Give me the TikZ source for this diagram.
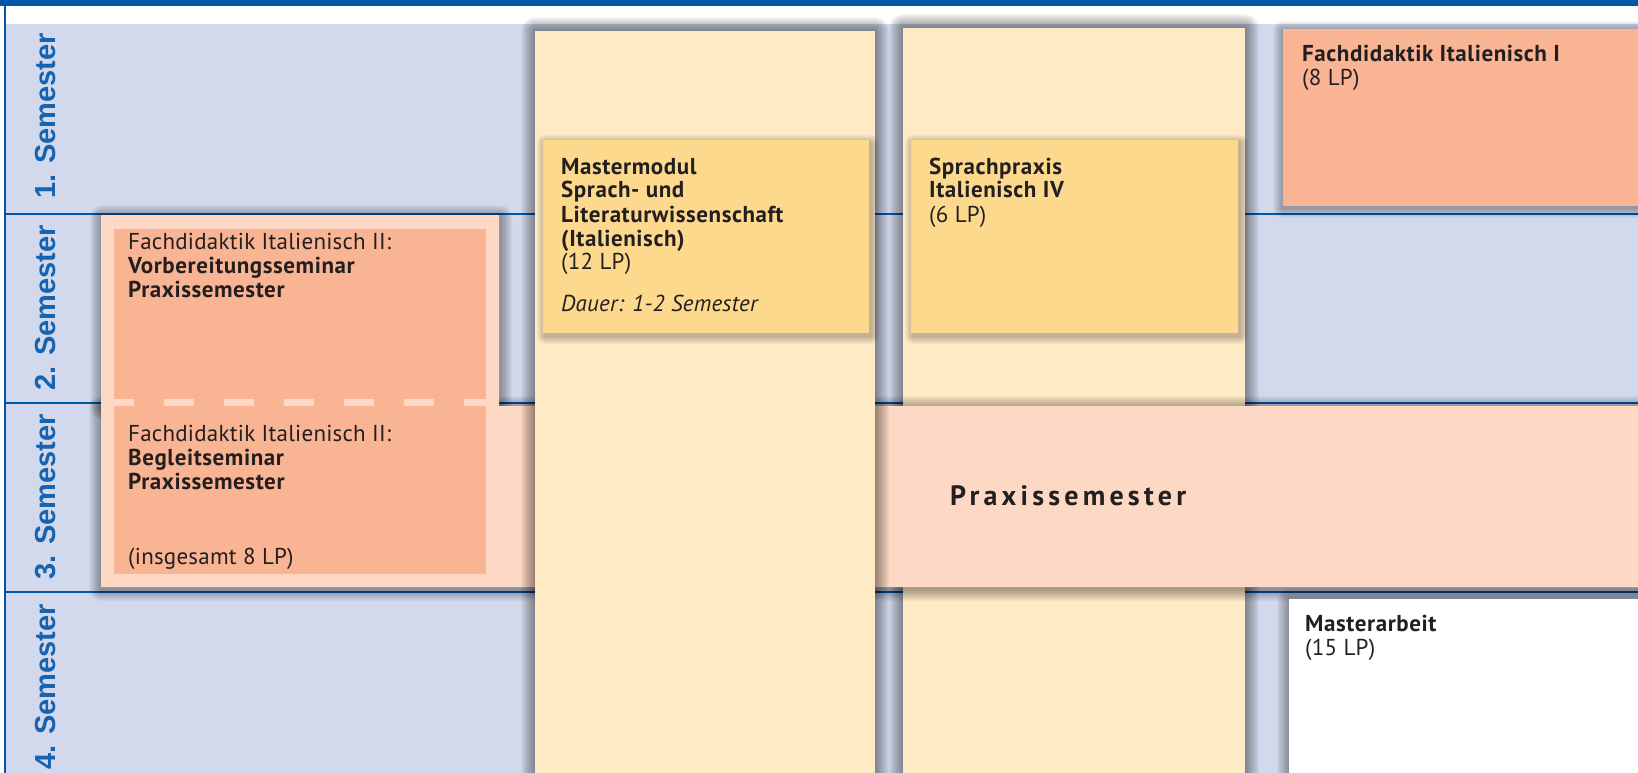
\documentclass[tikz,border=0pt]{standalone}
\usepackage{fontspec}
\setmainfont{PT Sans}[LetterSpace=1,BoldFeatures={LetterSpace=2.5}]
\newfontfamily\labfont{Liberation Sans}
\newfontfamily\bandfont{PT Sans Bold}[LetterSpace=15]
\definecolor{topblue}{HTML}{0057A8}
\definecolor{bgblue}{HTML}{D3D9EC}
\definecolor{colyellow}{HTML}{FFEAC6}
\definecolor{boxyellow}{HTML}{FDD98E}
\definecolor{salmon}{HTML}{F8B493}
\definecolor{lightpink}{HTML}{FDD8C4}
\definecolor{labblue}{HTML}{1763B0}
\definecolor{txt}{HTML}{231F20}
% soft shadow: x1 y1 x2 y2 spread dx dy
\newcommand\softshade[7]{%
  \foreach \k in {1,...,#5}{%
    \fill[black,opacity=0.03,rounded corners=\k pt]
      ({#1-\k+#6},{#2-\k+#7}) rectangle ({#3+\k+#6},{#4+\k+#7});}}
\begin{document}
\begin{tikzpicture}[x=1pt,y=-1pt,
  txtnode/.style={anchor=base west,inner sep=0pt,text=txt,font=\fontsize{23}{24}\selectfont},
  semlabel/.style={rotate=90,anchor=base,inner sep=0pt,text=labblue,font=\labfont\bfseries\fontsize{29}{29}\selectfont},
  rowline/.style={topblue,line width=2pt}]
\useasboundingbox (0,0) rectangle (1638,773);
% background
\fill[white] (0,0) rectangle (1638,773);
\fill[bgblue] (5,24) rectangle (1638,773);
\fill[topblue] (0,0) rectangle (1638,6);
\draw[topblue,line width=2pt] (4.5,0) -- (4.5,773);
% row separators
\coordinate (r1a) at (5,214); \coordinate (r1b) at (1638,214);
\coordinate (r2a) at (5,403); \coordinate (r2b) at (1638,403);
\coordinate (r3a) at (5,592); \coordinate (r3b) at (1638,592);
\draw[rowline] (r1a) -- (r1b);
\draw[rowline] (r2a) -- (r2b);
\draw[rowline] (r3a) -- (r3b);
% semester labels
\node[semlabel] (s1) at (55,116) {1. Semester};
\node[semlabel] (s2) at (55,308) {2. Semester};
\node[semlabel] (s3) at (55,497) {3. Semester};
\node[semlabel] (s4) at (55,687) {4. Semester};
% Fachdidaktik I
\softshade{1283}{29}{1660}{206}{10}{0}{2}
\fill[salmon] (1283,29) rectangle (1645,206);
% Sprachpraxis column
\softshade{903}{28}{1245}{790}{14}{0}{0}
\fill[colyellow] (903,28) rectangle (1245,790);
% Praxissemester band with Fachdidaktik II outer box
\softshade{101}{215}{499}{406}{12}{1}{2}
\softshade{101}{406}{1660}{587}{12}{0}{2}
\fill[lightpink] (101,215) -- (499,215) -- (499,406) -- (1645,406) -- (1645,587) -- (101,587) -- cycle;
% Mastermodul column
\softshade{535}{31}{875}{790}{14}{0}{0}
\fill[colyellow] (535,31) rectangle (875,790);
% inner Fachdidaktik II box
\fill[salmon] (114,229) rectangle (486,574);
\draw[lightpink,line width=7pt,dash pattern=on 30pt off 30pt,dash phase=10pt] (114,402.5) -- (486,402.5);
% module boxes
\softshade{543}{140}{869}{333}{8}{2}{3}
\fill[boxyellow] (543,140) rectangle (869,333);
\softshade{911}{140}{1238}{333}{8}{2}{3}
\fill[boxyellow] (911,140) rectangle (1238,333);
\softshade{1289}{599}{1660}{790}{12}{0}{1}
\fill[white] (1289,599) rectangle (1645,790);
% texts
\node[txtnode] (fd1) at (1302,62) {\begin{tabular}[t]{@{}l@{}}\bfseries Fachdidaktik Italienisch I\\(8 LP)\end{tabular}};
\node[txtnode] (mm) at (561,174) {\begin{tabular}[t]{@{}l@{}}\bfseries Mastermodul\\\bfseries Sprach- und\\\bfseries Literaturwissenschaft\\\bfseries (Italienisch)\\(12 LP)\\[18pt]\itshape Dauer: 1-2 Semester\end{tabular}};
\node[txtnode] (sp) at (929,174) {\begin{tabular}[t]{@{}l@{}}\bfseries Sprachpraxis\\\bfseries Italienisch IV\\(6 LP)\end{tabular}};
\node[txtnode] (fd2a) at (128,249) {\begin{tabular}[t]{@{}l@{}}Fachdidaktik Italienisch II:\\\bfseries Vorbereitungsseminar\\\bfseries Praxissemester\end{tabular}};
\node[txtnode] (fd2b) at (128,441) {\begin{tabular}[t]{@{}l@{}}Fachdidaktik Italienisch II:\\\bfseries Begleitseminar\\\bfseries Praxissemester\end{tabular}};
\node[txtnode] (fd2c) at (128,564) {(insgesamt 8 LP)};
\node[anchor=base west,inner sep=0pt,text=txt,font=\bandfont\fontsize{28}{30}\selectfont] (ps) at (950,505) {Praxissemester};
\node[txtnode] (ma) at (1305,631) {\begin{tabular}[t]{@{}l@{}}\bfseries Masterarbeit\\(15 LP)\end{tabular}};
\end{tikzpicture}
\end{document}
